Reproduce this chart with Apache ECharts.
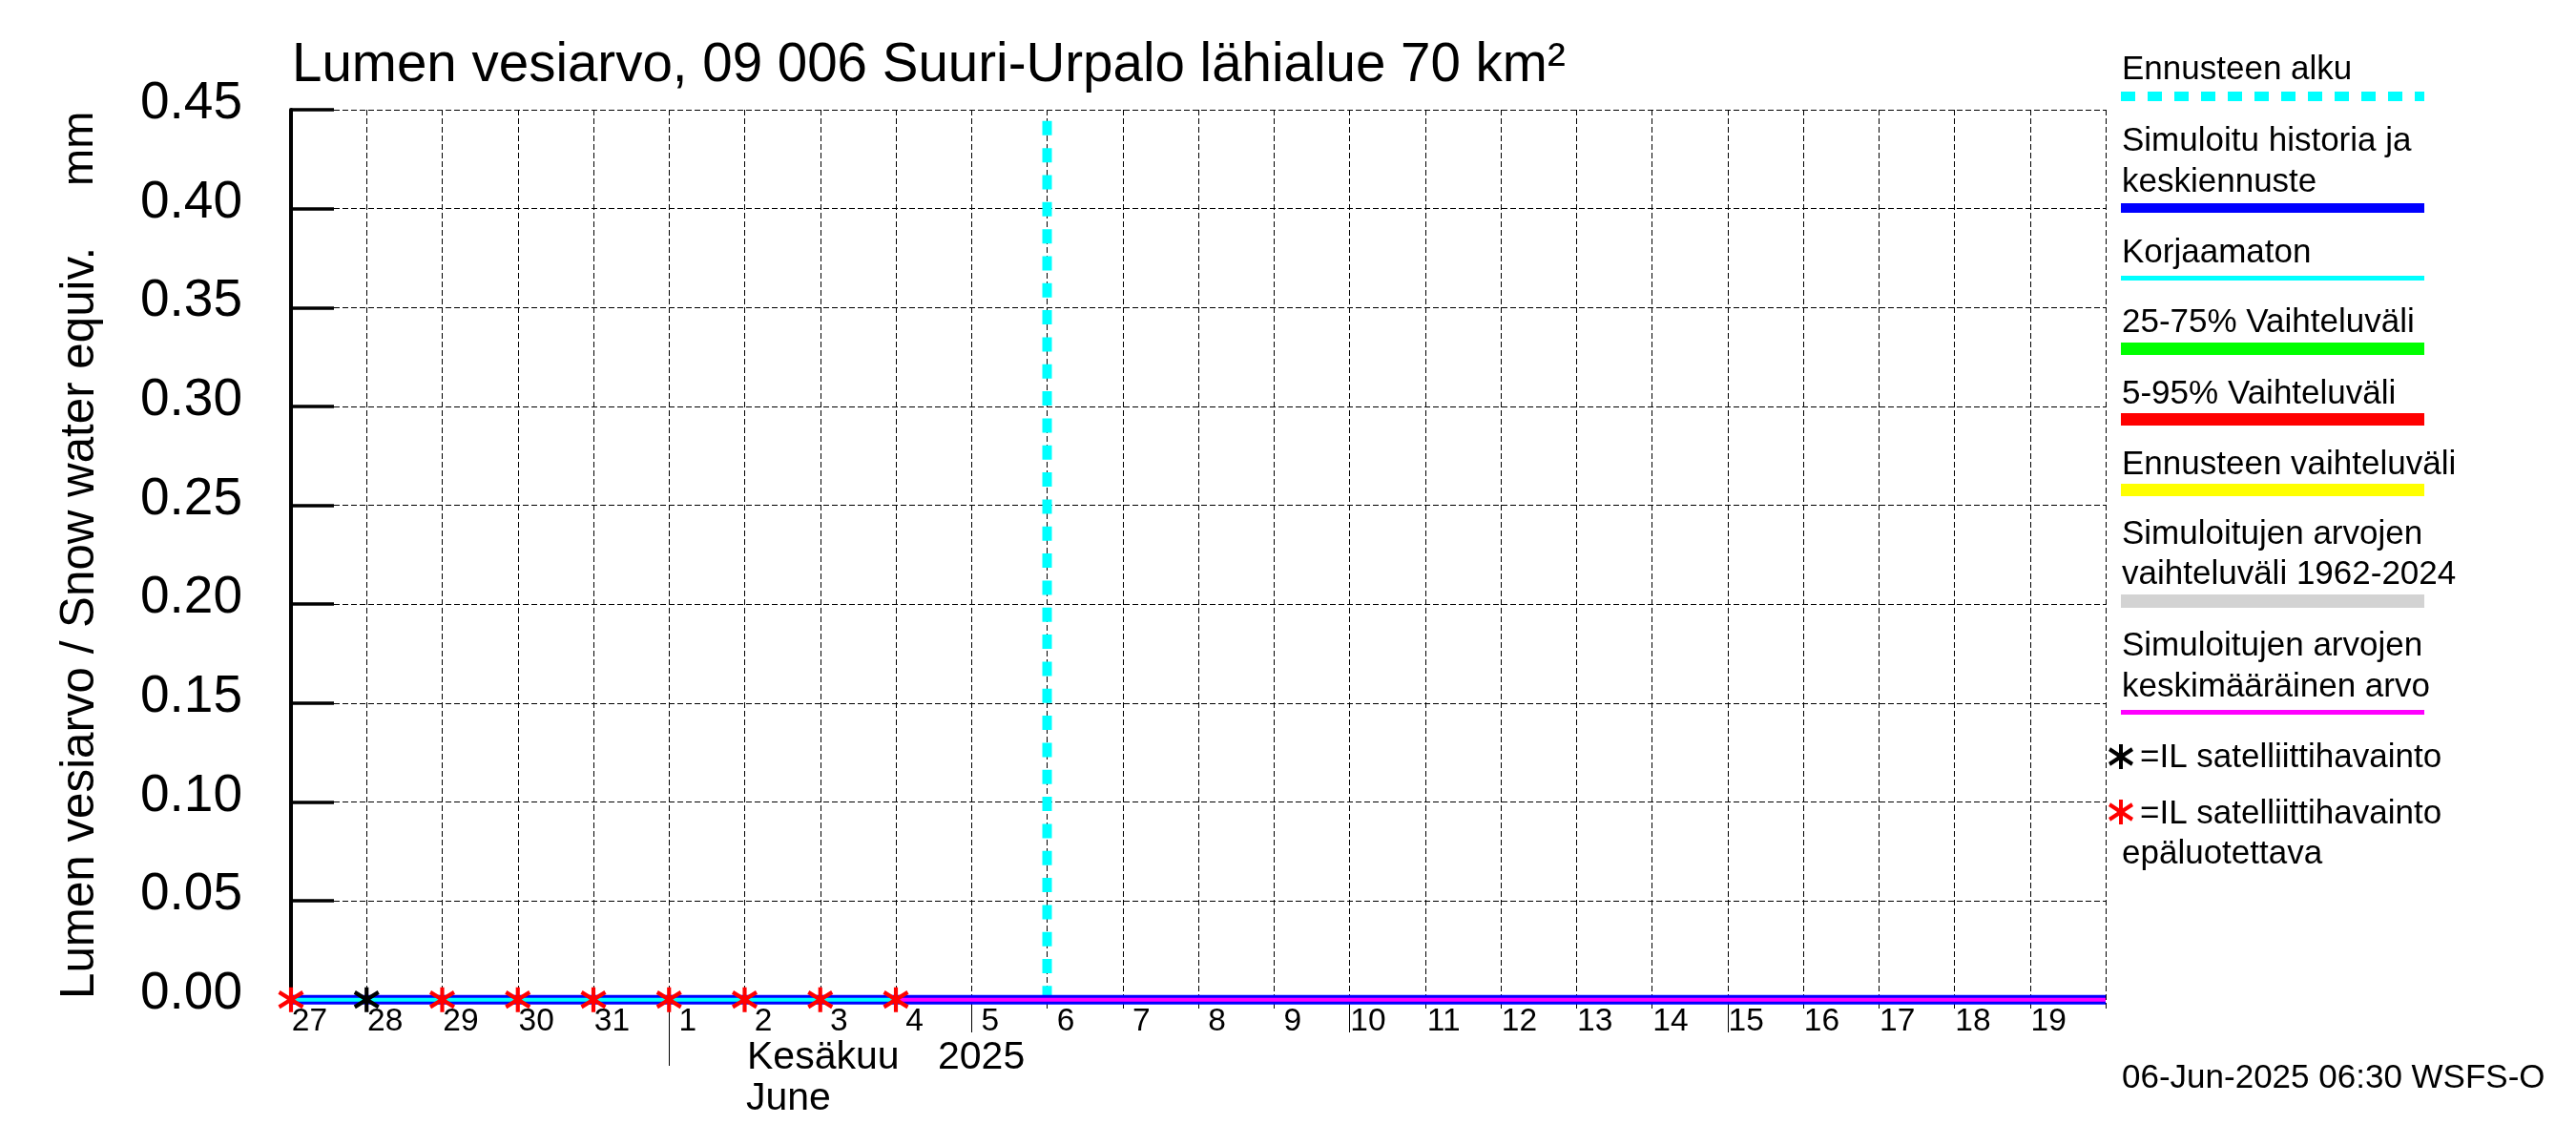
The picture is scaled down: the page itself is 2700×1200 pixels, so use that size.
<!DOCTYPE html>
<html>
<head>
<meta charset="utf-8">
<title>Lumen vesiarvo</title>
<script src="https://cdn.jsdelivr.net/npm/echarts@6/dist/echarts.min.js"></script>
<style>
  html, body { margin: 0; padding: 0; background: #fff; }
  #chart { width: 2700px; height: 1200px; }
</style>
</head>
<body>
<div id="chart"></div>
<script>
// days on the x axis, 27 May - 20 Jun 2025
const days = ['27','28','29','30','31','1','2','3','4','5','6','7','8','9','10','11','12','13','14','15','16','17','18','19','20'];
const yTicks = [0, 0.05, 0.10, 0.15, 0.20, 0.25, 0.30, 0.35, 0.40, 0.45];
const shortTickDays = ['5', '10', '15'];
const monthTickDays = ['1'];

const simulated = [0,0,0,0,0,0,0,0,0,0,0,0,0,0,0,0,0,0,0,0,0,0,0,0,0];
const uncorrected = [0,0,0,0,0,0,0,0,0,null,null,null,null,null,null,null,null,null,null,null,null,null,null,null,null];
const meanValue = [null,null,null,null,null,null,null,null,0,0,0,0,0,0,0,0,0,0,0,0,0,0,0,0,0];
const satellite = [null,0,null,null,null,null,null,null,null,null,null,null,null,null,null,null,null,null,null,null,null,null,null,null,null];
const satelliteUnreliable = [0,null,0,0,0,0,0,0,0,null,null,null,null,null,null,null,null,null,null,null,null,null,null,null,null];
const forecastStart = [['6', 0.4443], ['6', 0]];

const FONT = '"Liberation Sans", Arial, sans-serif';
const STAR = 'path://M-2 -13L2 -13L2 13L-2 13Z M-11 -9.7L13 5.9L11 9.7L-13 -5.9Z M-13 5.9L11 -9.7L13 -5.9L-11 9.7Z';

// text helper, y is the baseline
function label(text, x, y, size) {
  size = size || 35;
  return {
    type: 'text', x: x, y: y - size * 0.27, silent: true,
    style: { text: text, fill: '#000', font: size + 'px ' + FONT, align: 'left', verticalAlign: 'middle' }
  };
}
function swatch(color, y, width, dash) {
  return {
    type: 'line', silent: true,
    shape: { x1: 2223, y1: y, x2: 2541, y2: y },
    style: { stroke: color, lineWidth: width, lineDash: dash || null }
  };
}
// legend asterisk, three crossing bars
function legendStar(color, y) {
  const bars = [
    [[-2, -13], [2, -13], [2, 13], [-2, 13]],
    [[-11, -9.7], [13, 5.9], [11, 9.7], [-13, -5.9]],
    [[-13, 5.9], [11, -9.7], [13, -5.9], [-11, 9.7]]
  ];
  return {
    type: 'group', x: 2223, y: y, silent: true,
    children: bars.map(function (b) {
      return { type: 'polygon', shape: { points: b }, style: { fill: color } };
    })
  };
}
function rotated(text, x, y, size) {
  return {
    type: 'text', x: x, y: y, rotation: Math.PI / 2, silent: true,
    style: { text: text, fill: '#000', font: size + 'px ' + FONT, align: 'left', verticalAlign: 'middle' }
  };
}

const chart = echarts.init(document.getElementById('chart'));

const option = {
  backgroundColor: '#fff',
  animation: false,
  grid: { left: 305, right: 493, top: 115, bottom: 143, containLabel: false },
  xAxis: [
    {
      type: 'category', data: days, boundaryGap: false, position: 'bottom',
      axisLine: { show: false, onZero: false },
      axisTick: {
        show: true, length: 25, inside: false,
        interval: function (i, v) { return shortTickDays.indexOf(v) >= 0; },
        lineStyle: { color: '#000', width: 1 }
      },
      axisLabel: {
        show: true, margin: -3,
        interval: function (i) { return i < days.length - 1; },
        color: '#000', fontFamily: FONT, fontSize: 33.5,
        align: 'center', padding: [0, 0, 0, 39]
      },
      splitLine: { show: true, interval: 0, lineStyle: { color: '#000', width: 1, type: [6, 3] } }
    },
    {
      type: 'category', data: days, boundaryGap: false, position: 'bottom',
      axisLine: { show: false, onZero: false },
      axisTick: {
        show: true, length: 60,
        interval: function (i, v) { return monthTickDays.indexOf(v) >= 0; },
        lineStyle: { color: '#000', width: 1 }
      },
      axisLabel: { show: false },
      splitLine: { show: false }
    }
  ],
  yAxis: {
    type: 'value', min: -0.0045, max: 0.45,
    axisLine: { show: true, onZero: false, lineStyle: { color: '#000', width: 4 } },
    axisTick: { show: true, inside: true, length: 45, customValues: yTicks, lineStyle: { color: '#000', width: 3.5 } },
    axisLabel: {
      show: true, customValues: yTicks, margin: 51,
      color: '#000', fontFamily: FONT, fontSize: 55,
      verticalAlign: 'bottom', lineHeight: 12,
      formatter: function (v) { return v.toFixed(2); }
    },
    splitLine: { show: true, lineStyle: { color: '#000', width: 1, type: [6, 3] } }
  },
  series: [
    {
      name: 'Ennusteen alku', type: 'line', data: forecastStart, symbol: 'none', z: 3, clip: false,
      lineStyle: { color: '#00ffff', width: 10, type: [15, 13.33], cap: 'butt' }
    },
    {
      name: 'Simuloitu historia ja keskiennuste', type: 'line', data: simulated, symbol: 'none', z: 4, clip: false,
      lineStyle: { color: '#0000ff', width: 10, cap: 'butt' }
    },
    {
      name: 'Korjaamaton', type: 'line', data: uncorrected, symbol: 'none', z: 5, clip: false,
      lineStyle: { color: '#00ffff', width: 4, cap: 'butt' }
    },
    {
      name: 'Simuloitujen arvojen keskimääräinen arvo', type: 'line', data: meanValue, symbol: 'none', z: 5, clip: false,
      lineStyle: { color: '#ff00ff', width: 4, cap: 'butt' }
    },
    {
      name: 'IL satelliittihavainto', type: 'scatter', data: satellite, symbol: STAR, symbolSize: [27, 26], z: 6, clip: false,
      itemStyle: { color: '#000', opacity: 1 }
    },
    {
      name: 'IL satelliittihavainto epäluotettava', type: 'scatter', data: satelliteUnreliable, symbol: STAR, symbolSize: [27, 26], z: 6, clip: false,
      itemStyle: { color: '#ff0000', opacity: 1 }
    }
  ],
  graphic: { elements: [
    label('Lumen vesiarvo, 09 006 Suuri-Urpalo lähialue 70 km²', 306, 85, 56.5),
    rotated('Lumen vesiarvo / Snow water equiv.', 84, 1047, 49.3),
    rotated('mm', 84, 195, 47),
    label('Kesäkuu', 783, 1120, 41),
    label('2025', 983, 1120, 41),
    label('June', 782, 1163, 41),

    label('Ennusteen alku', 2224, 83),
    swatch('#00ffff', 101, 10, [15, 13]),
    label('Simuloitu historia ja', 2224, 158),
    label('keskiennuste', 2224, 201),
    swatch('#0000ff', 218, 10),
    label('Korjaamaton', 2224, 275),
    swatch('#00ffff', 291.5, 5),
    label('25-75% Vaihteluväli', 2224, 348),
    swatch('#00ff00', 365.5, 13),
    label('5-95% Vaihteluväli', 2224, 423),
    swatch('#ff0000', 439.5, 13),
    label('Ennusteen vaihteluväli', 2224, 497),
    swatch('#ffff00', 513.5, 13),
    label('Simuloitujen arvojen', 2224, 570),
    label('vaihteluväli 1962-2024', 2224, 612),
    swatch('#d3d3d3', 630, 14),
    label('Simuloitujen arvojen', 2224, 687),
    label('keskimääräinen arvo', 2224, 730),
    swatch('#ff00ff', 746.5, 5),
    legendStar('#000', 793),
    label('=IL satelliittihavainto', 2243, 804),
    legendStar('#ff0000', 851),
    label('=IL satelliittihavainto', 2243, 863),
    label('epäluotettava', 2224, 905),
    label('06-Jun-2025 06:30 WSFS-O', 2224, 1140)
  ] }
};

option && chart.setOption(option);
</script>
</body>
</html>
